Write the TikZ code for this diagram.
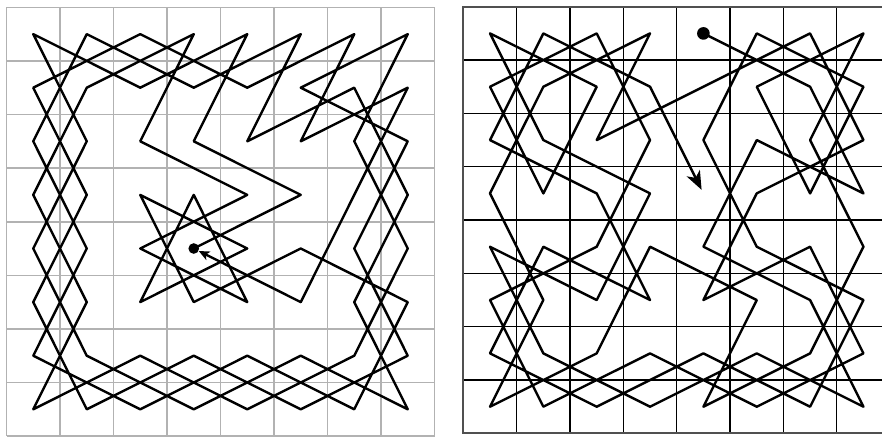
\documentclass[tikz,border=0pt]{standalone}
\usetikzlibrary{arrows.meta}
\definecolor{lgrid}{RGB}{178,178,178}
\definecolor{rborder}{RGB}{80,80,80}
\tikzset{
  lgridline/.style={draw=lgrid, line width=1.2pt},
  rgridline/.style={draw=black, line width=0.9pt},
  rframe/.style={draw=rborder, line width=1.7pt},
  tour/.style={draw=black, line width=1.8pt, line join=round, line cap=round},
  tourdot/.style={circle, fill=black, inner sep=0pt, minimum size=#1},
}
\begin{document}
\begin{tikzpicture}[x=0.75pt,y=-0.75pt]
\clip (0,0) rectangle (882,436);
\fill[white] (0,0) rectangle (882,436);
% ---------- left board grid ----------
\foreach \i in {0,...,8} {
  \draw[lgridline] ({6.5+53.5*\i},7.3) -- ({6.5+53.5*\i},436.1);
  \draw[lgridline] (6.5,{7.3+53.6*\i}) -- (434.5,{7.3+53.6*\i});
}
% ---------- right board grid ----------
\foreach \i in {1,...,7} {
  \draw[rgridline] ({463.3+53.35*\i},6.7) -- ({463.3+53.35*\i},433.3);
  \draw[rgridline] (463.3,{6.7+53.33*\i}) -- (890.1,{6.7+53.33*\i});
}
\draw[rframe] (890.1,6.7) -- (463.3,6.7) -- (463.3,433.3) -- (890.1,433.3);
% ---------- square centres ----------
\foreach \c in {0,...,7} {
  \foreach \r in {0,...,7} {
    \coordinate (L\c\r) at ({33.25+53.5*\c},{34.1+53.6*\r});
    \coordinate (R\c\r) at ({490+53.35*\c},{33.4+53.33*\r});
  }
}
% ---------- left tour (closed) ----------
\draw[tour] (L34) -- (L53) -- (L32) -- (L40) -- (L21) -- (L00) -- (L12) -- (L04)
  -- (L16) -- (L37) -- (L56) -- (L77) -- (L65) -- (L73) -- (L61) -- (L42)
  -- (L50) -- (L31) -- (L10) -- (L02) -- (L14) -- (L06) -- (L27) -- (L46)
  -- (L67) -- (L75) -- (L54) -- (L35) -- (L23) -- (L44) -- (L25) -- (L33)
  -- (L45) -- (L24) -- (L43) -- (L22) -- (L30) -- (L11) -- (L03) -- (L15)
  -- (L07) -- (L26) -- (L47) -- (L66) -- (L74) -- (L62) -- (L70) -- (L51)
  -- (L72) -- (L64) -- (L76) -- (L57) -- (L36) -- (L17) -- (L05) -- (L13)
  -- (L01) -- (L20) -- (L41) -- (L60) -- (L52) -- (L71) -- (L63) -- (L55);
\node[tourdot=8pt] (ldot) at (L34) {};
\draw[tour, -{Stealth[length=8pt,width=7pt,inset=2pt]}] (L55) -- (ldot);
% ---------- right tour (open) ----------
\draw[tour] (R40) -- (R61) -- (R73) -- (R52) -- (R44) -- (R65) -- (R77) -- (R56)
  -- (R37) -- (R16) -- (R04) -- (R25) -- (R33) -- (R12) -- (R00) -- (R21)
  -- (R13) -- (R01) -- (R20) -- (R32) -- (R24) -- (R05) -- (R17) -- (R36)
  -- (R57) -- (R76) -- (R64) -- (R45) -- (R53) -- (R72) -- (R60) -- (R41)
  -- (R22) -- (R30) -- (R11) -- (R03) -- (R15) -- (R07) -- (R26) -- (R34)
  -- (R55) -- (R47) -- (R66) -- (R74) -- (R62) -- (R70) -- (R51) -- (R63)
  -- (R71) -- (R50) -- (R42) -- (R54) -- (R75) -- (R67) -- (R46) -- (R27)
  -- (R06) -- (R14) -- (R35) -- (R23) -- (R02) -- (R10) -- (R31);
\node[tourdot=9.5pt] (rdot) at (R40) {};
\draw[tour, -{Stealth[length=14pt,width=11pt,inset=4pt]}, shorten >=3pt] (R31) -- (R43);
\end{tikzpicture}
\end{document}
